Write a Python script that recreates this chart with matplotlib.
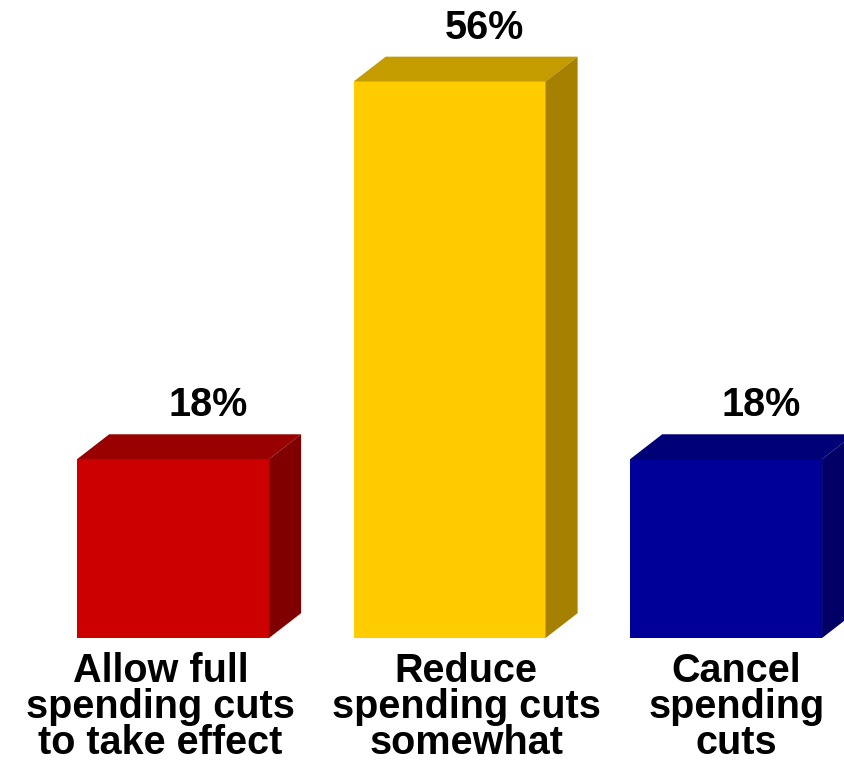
import matplotlib
matplotlib.use('Agg')
import matplotlib.pyplot as plt
from matplotlib.patches import Polygon

categories = ['Allow full\nspending cuts\nto take effect',
              'Reduce\nspending cuts\nsomewhat',
              'Cancel\nspending\ncuts']
values = [18, 56, 18]
labels = ['18%', '56%', '18%']
front_colors = ['#CC0000', '#FFCC00', '#000099']
top_colors = ['#990000', '#C49C00', '#000077']
side_colors = ['#800000', '#A68000', '#000066']

plt.rcParams['font.family'] = ['Liberation Sans', 'DejaVu Sans']

fig = plt.figure(figsize=(8.45, 7.65), dpi=100)
ax = fig.add_axes([0, 0, 1, 1])
ax.set_xlim(-0.626, 2.430)
ax.set_ylim(-12.78, 64.2)
ax.axis('off')

width = 0.694
dx, dy = 0.116, 2.5
# small horizontal shifts of the category labels, as in the original
label_shift = [-0.045, 0.06, 0.038]

for i, v in enumerate(values):
    left = i - width / 2
    right = i + width / 2
    ax.bar(i, v, width=width, color=front_colors[i], zorder=2)
    top = Polygon([(left, v), (left + dx, v + dy), (right + dx, v + dy), (right, v)],
                  closed=True, facecolor=top_colors[i], edgecolor='none', zorder=2)
    side = Polygon([(right, 0), (right, v), (right + dx, v + dy), (right + dx, dy)],
                   closed=True, facecolor=side_colors[i], edgecolor='none', zorder=2)
    ax.add_patch(top)
    ax.add_patch(side)
    ax.text(i + dx + 0.01, v + dy + 1.8, labels[i], ha='center', va='baseline',
            fontsize=28.5, fontweight='bold', color='black')
    ax.text(i + label_shift[i], -1.4, categories[i], ha='center', va='top',
            fontsize=28.5, fontweight='bold', color='black', linespacing=0.93)

fig.savefig('out.png', dpi=100)
